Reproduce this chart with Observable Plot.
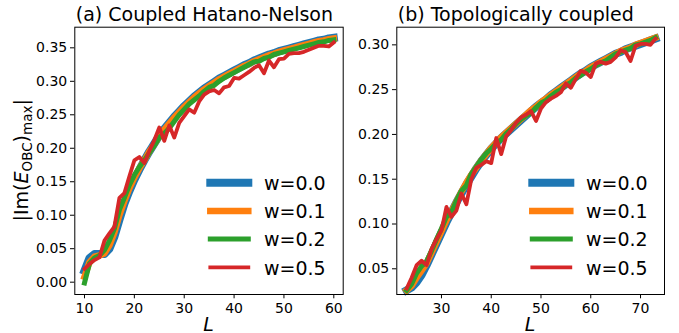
<!DOCTYPE html>
<html><head><meta charset="utf-8">
<script src="https://cdn.jsdelivr.net/npm/d3@7"></script>
<script src="https://cdn.jsdelivr.net/npm/@observablehq/plot@0.6"></script>
<style>
body{margin:0;background:#fff;}
#chart{position:relative;width:679px;height:333px;overflow:hidden;background:#fff;}
#chart svg{position:absolute;top:0;overflow:visible;}
</style></head><body><div id="chart"></div>
<script>
const wLabels = ["w=0.0","w=0.1","w=0.2","w=0.5"];
const titleA = "(a) Coupled Hatano-Nelson";
const titleB = "(b) Topologically coupled";
const xTicksA = [10,20,30,40,50,60];
const xTicksB = [30,40,50,60,70];
const yTicksA = [0,0.05,0.10,0.15,0.20,0.25,0.30,0.35];
const yTicksB = [0.05,0.10,0.15,0.20,0.25,0.30];

const L_A = [10,11,12,13,14,15,16,17,18,19,20,21,22,23,24,25,26,27,28,29,30,31,32,33,34,35,36,37,38,39,40,41,42,43,44,45,46,47,48,49,50,51,52,53,54,55,56,57,58,59,60];
const A_w00 = [0.017,0.036,0.042,0.042,0.042,0.050,0.068,0.093,0.117,0.136,0.153,0.168,0.182,0.195,0.207,0.219,0.229,0.238,0.247,0.255,0.263,0.270,0.277,0.283,0.289,0.294,0.299,0.304,0.308,0.312,0.316,0.320,0.324,0.327,0.331,0.334,0.337,0.340,0.342,0.345,0.347,0.349,0.351,0.353,0.355,0.357,0.359,0.361,0.362,0.364,0.365];
const A_w01 = [0.008,0.030,0.038,0.040,0.043,0.055,0.074,0.100,0.121,0.140,0.156,0.170,0.182,0.195,0.206,0.218,0.228,0.237,0.246,0.254,0.262,0.269,0.276,0.282,0.288,0.293,0.298,0.303,0.307,0.311,0.315,0.319,0.323,0.326,0.330,0.333,0.336,0.339,0.341,0.344,0.346,0.348,0.350,0.352,0.354,0.356,0.358,0.360,0.361,0.363,0.364];
const A_w02 = [-0.001,0.028,0.036,0.040,0.048,0.062,0.080,0.108,0.126,0.145,0.160,0.172,0.182,0.193,0.204,0.216,0.222,0.230,0.240,0.250,0.258,0.266,0.272,0.278,0.285,0.291,0.294,0.300,0.305,0.309,0.313,0.317,0.321,0.325,0.329,0.330,0.334,0.336,0.340,0.342,0.344,0.346,0.348,0.350,0.352,0.354,0.356,0.358,0.359,0.361,0.362];
const A_w05 = [0.020,0.027,0.033,0.037,0.062,0.073,0.083,0.126,0.133,0.158,0.182,0.187,0.178,0.196,0.212,0.231,0.211,0.234,0.216,0.238,0.248,0.258,0.253,0.270,0.280,0.285,0.287,0.282,0.291,0.293,0.305,0.304,0.309,0.314,0.320,0.324,0.312,0.331,0.321,0.333,0.334,0.341,0.342,0.342,0.344,0.347,0.350,0.353,0.353,0.352,0.358];

const L_B = [23,24,25,26,27,28,29,30,31,32,33,34,35,36,37,38,39,40,41,42,43,44,45,46,47,48,49,50,51,52,53,54,55,56,57,58,59,60,61,62,63,64,65,66,67,68,69,70,71,72,73];
const B_w00 = [0.026,0.029,0.035,0.043,0.054,0.066,0.078,0.090,0.102,0.113,0.124,0.134,0.144,0.153,0.162,0.170,0.177,0.184,0.190,0.196,0.201,0.206,0.211,0.216,0.221,0.226,0.231,0.235,0.239,0.244,0.248,0.252,0.256,0.260,0.264,0.268,0.271,0.275,0.278,0.281,0.284,0.287,0.290,0.292,0.295,0.297,0.299,0.301,0.303,0.305,0.307];
const B_w01 = [0.026,0.031,0.040,0.048,0.056,0.068,0.080,0.092,0.104,0.114,0.125,0.136,0.146,0.155,0.163,0.171,0.178,0.185,0.191,0.197,0.202,0.207,0.212,0.217,0.222,0.227,0.231,0.236,0.240,0.244,0.248,0.252,0.256,0.260,0.264,0.268,0.271,0.275,0.278,0.281,0.284,0.287,0.290,0.293,0.295,0.297,0.300,0.302,0.304,0.306,0.308];
const B_w02 = [0.026,0.033,0.045,0.053,0.058,0.070,0.083,0.095,0.108,0.113,0.126,0.137,0.143,0.156,0.164,0.172,0.179,0.184,0.190,0.194,0.201,0.206,0.212,0.217,0.221,0.224,0.230,0.235,0.238,0.243,0.247,0.250,0.255,0.258,0.263,0.266,0.270,0.273,0.277,0.280,0.282,0.286,0.290,0.292,0.294,0.296,0.300,0.301,0.303,0.305,0.308];
const B_w05 = [0.028,0.040,0.054,0.059,0.054,0.072,0.083,0.093,0.119,0.108,0.115,0.134,0.122,0.150,0.163,0.166,0.170,0.168,0.196,0.178,0.198,0.205,0.213,0.219,0.222,0.226,0.215,0.229,0.236,0.240,0.243,0.247,0.257,0.252,0.262,0.271,0.269,0.264,0.279,0.281,0.279,0.281,0.286,0.294,0.292,0.282,0.299,0.301,0.301,0.300,0.307];

const colors = ["#1f77b4","#ff7f0e","#2ca02c","#d62728"];
const lineWidths = [8, 6.5, 5, 3.8];
const FONT = "DejaVu Sans";

function panel(cfg) {
  const marks = [];
  cfg.series.forEach((vals, i) => {
    const rows = vals.map((v, j) => ({L: cfg.L[j], v, w: wLabels[i]}));
    marks.push(Plot.line(rows, {x: "L", y: "v", stroke: colors[i], strokeWidth: lineWidths[i], strokeLinecap: "square", strokeLinejoin: "round"}));
  });
  const svg = Plot.plot({
    width: cfg.width, height: 333,
    marginLeft: cfg.ml, marginRight: cfg.mr, marginTop: 26.7, marginBottom: 39,
    style: {fontFamily: FONT, fontSize: "14px", color: "black", background: "transparent", overflow: "visible"},
    x: {domain: cfg.xDomain},
    y: {domain: cfg.yDomain},
    marks: [
      ...marks,
      Plot.axisX({ticks: cfg.xTicks, tickSize: 4.3, tickPadding: 4.5, label: null, fontSize: 14, tickFormat: d3.format("d")}),
      Plot.axisY({ticks: cfg.yTicks, tickSize: 4.3, tickPadding: 3.3, label: null, fontSize: 14, tickFormat: d3.format(".2f")}),
      Plot.frame({stroke: "black", strokeWidth: 1})
    ]
  });
  const s = d3.select(svg);
  const cx = cfg.ml + (cfg.width - cfg.ml - cfg.mr) / 2;
  s.append("text").attr("x", cfg.ml + 1.5).attr("y", 21).attr("text-anchor", "start")
    .attr("font-size", 19).attr("font-family", FONT).attr("fill", "black").text(cfg.title);
  s.append("text").attr("x", cx).attr("y", 330.5).attr("text-anchor", "middle")
    .attr("font-size", 19).attr("font-family", FONT).attr("font-style", "italic").attr("fill", "black").text("L");
  const ly = [182.7, 211, 239, 267.3];
  wLabels.forEach((lab, i) => {
    s.append("line").attr("x1", cfg.legX1).attr("x2", cfg.legX2).attr("y1", ly[i]).attr("y2", ly[i])
      .attr("stroke", colors[i]).attr("stroke-width", lineWidths[i]).attr("stroke-linecap", "square");
    s.append("text").attr("x", cfg.legText).attr("y", ly[i] + 7.3).attr("font-size", 19)
      .attr("text-anchor", "start")
      .attr("font-family", FONT).attr("fill", "black").text(lab);
  });
  return svg;
}

const chart = document.getElementById("chart");
const svgA = panel({L: L_A, series: [A_w00, A_w01, A_w02, A_w05], xDomain: [8.055, 61.885], yDomain: [-0.0184, 0.3808],
  xTicks: xTicksA, yTicks: yTicksA, width: 350, ml: 74.3, mr: 7.3, title: titleA, legX1: 210.3, legX2: 248.3, legText: 264});
svgA.style.left = "0px";
const yl = d3.select(svgA).append("text").attr("transform", "translate(28,160.3) rotate(-90)")
  .attr("text-anchor", "middle").attr("font-size", 19).attr("font-family", FONT).attr("fill", "black");
yl.append("tspan").text("|Im(");
yl.append("tspan").attr("font-style", "italic").text("E");
yl.append("tspan").attr("font-size", 13.5).attr("dy", 4).text("OBC");
yl.append("tspan").attr("dy", -4).text(")");
yl.append("tspan").attr("font-size", 13.5).attr("dy", 4).text("max");
yl.append("tspan").attr("dy", -4).text("|");
chart.appendChild(svgA);

const svgB = panel({L: L_B, series: [B_w00, B_w01, B_w02, B_w05], xDomain: [21.02, 74.82], yDomain: [0.0213, 0.3197],
  xTicks: xTicksB, yTicks: yTicksB, width: 329, ml: 46.3, mr: 15, title: titleB, legX1: 182.3, legX2: 220.3, legText: 236});
svgB.style.left = "350px";
chart.appendChild(svgB);
</script></body></html>
